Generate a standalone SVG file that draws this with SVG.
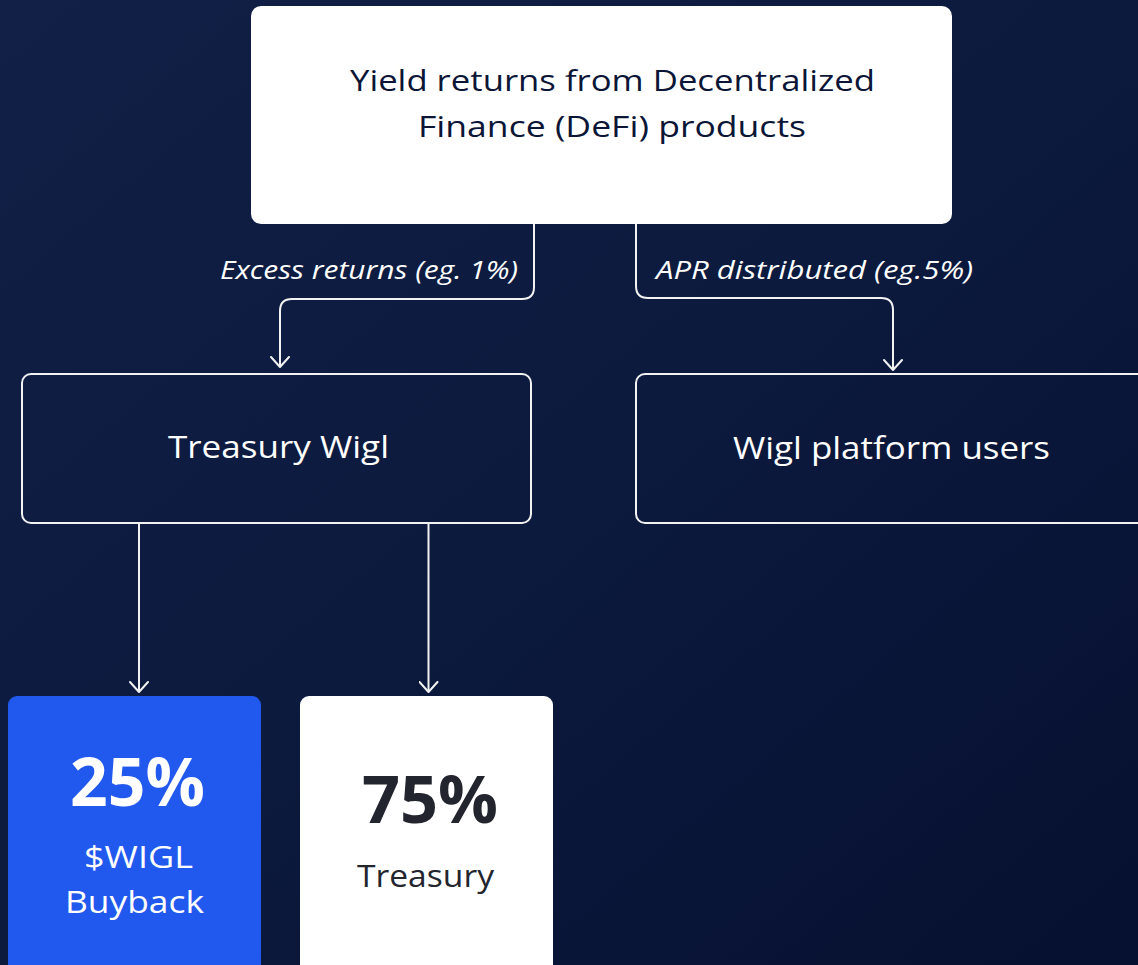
<svg xmlns="http://www.w3.org/2000/svg" width="1138" height="965" viewBox="0 0 1138 965">
<defs>
<linearGradient id="bg" x1="0" y1="0" x2="1" y2="1">
<stop offset="0" stop-color="#121f46"/>
<stop offset="0.5" stop-color="#0c1a3e"/>
<stop offset="1" stop-color="#061030"/>
</linearGradient>
<marker id="arr" markerUnits="userSpaceOnUse" viewBox="-1 -1 13 20" markerWidth="13" markerHeight="20" refX="10" refY="9" orient="auto">
<path d="M0,0 L10,9 L0,18" fill="none" stroke="#f2f2f2" stroke-width="2" stroke-linecap="round" stroke-linejoin="round"/>
</marker>
<style>
.t{font-family:"Open Sans","Noto Sans","Liberation Sans",sans-serif;}
.lab{font-size:25px;font-style:italic;fill:#ffffff;}
.conn{fill:none;stroke:#f2f2f2;stroke-width:2;}
.ob{fill:none;stroke:#f2f2f2;stroke-width:2;}
.wt{fill:#ffffff;font-size:31px;}
</style>
</defs>
<rect width="1138" height="965" fill="url(#bg)"/>
<g id="connectors">
<path class="conn" d="M534 224 V287 Q534 299 522 299 H292 Q280 299 280 311 V367" marker-end="url(#arr)"/>
<path class="conn" d="M636 224 V286 Q636 298 648 298 H881 Q893 298 893 310 V370" marker-end="url(#arr)"/>
<path class="conn" d="M139 524 V692" marker-end="url(#arr)"/>
<path class="conn" d="M428.5 524 V692" marker-end="url(#arr)"/>
<text class="t lab" x="220" y="279" textLength="298" lengthAdjust="spacingAndGlyphs">Excess returns (eg. 1%)</text>
<text class="t lab" x="656" y="279" textLength="317" lengthAdjust="spacingAndGlyphs">APR distributed (eg.5%)</text>
</g>
<g id="node-yield">
<rect x="251" y="6" width="701" height="218" rx="10" fill="#ffffff"/>
<text class="t" x="350" y="91" font-size="29" fill="#0b1536" textLength="525" lengthAdjust="spacingAndGlyphs">Yield returns from Decentralized</text>
<text class="t" x="418" y="137" font-size="29" fill="#0b1536" textLength="388" lengthAdjust="spacingAndGlyphs">Finance (DeFi) products</text>
</g>
<g id="node-treasury-wigl">
<rect class="ob" x="22" y="374" width="509" height="149" rx="9"/>
<text class="t wt" x="168" y="458" textLength="221" lengthAdjust="spacingAndGlyphs">Treasury Wigl</text>
</g>
<g id="node-users">
<rect class="ob" x="636" y="374" width="520" height="149" rx="9"/>
<text class="t wt" x="733" y="459" textLength="317" lengthAdjust="spacingAndGlyphs">Wigl platform users</text>
</g>
<g id="node-buyback">
<rect x="8" y="696" width="253" height="290" rx="9" fill="#2159ee"/>
<text class="t" x="70" y="806" font-size="66" font-weight="bold" fill="#ffffff" textLength="135" lengthAdjust="spacingAndGlyphs">25%</text>
<text class="t wt" x="84" y="868" textLength="109" lengthAdjust="spacingAndGlyphs">$WIGL</text>
<text class="t wt" x="65" y="913" textLength="139" lengthAdjust="spacingAndGlyphs">Buyback</text>
</g>
<g id="node-treasury">
<rect x="300" y="696" width="253" height="290" rx="9" fill="#ffffff"/>
<text class="t" x="362" y="823" font-size="67" font-weight="bold" fill="#22252e" textLength="136" lengthAdjust="spacingAndGlyphs">75%</text>
<text class="t" x="357" y="887" font-size="31" fill="#22252e" textLength="137" lengthAdjust="spacingAndGlyphs">Treasury</text>
</g>
</svg>
